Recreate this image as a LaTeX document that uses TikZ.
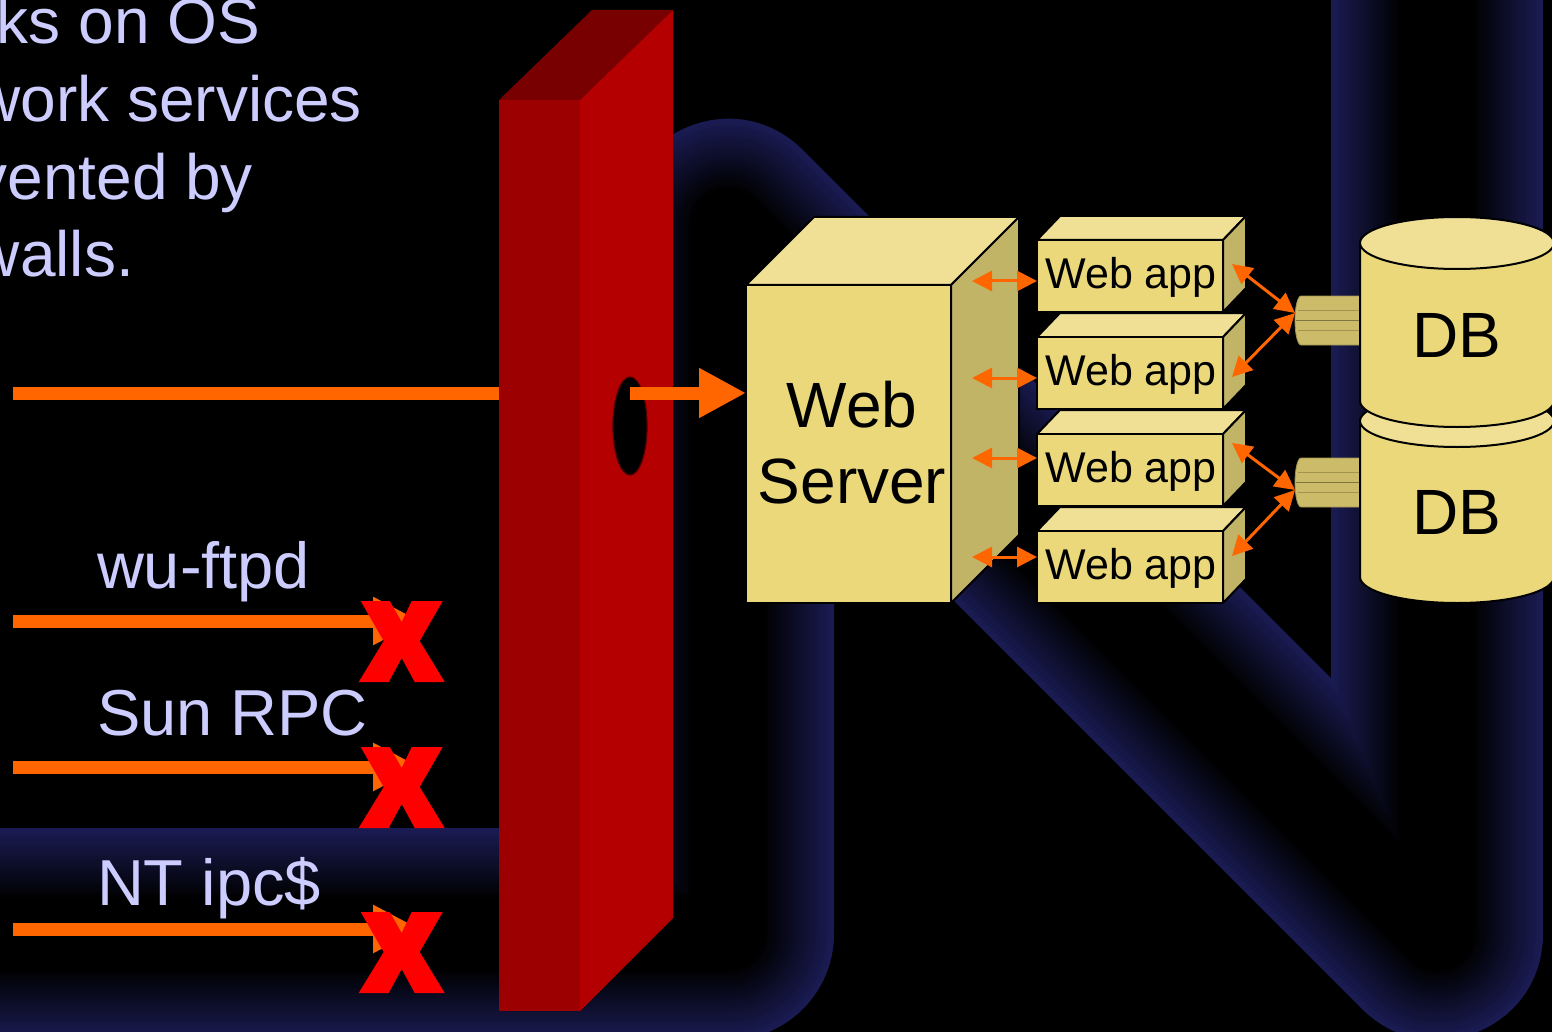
\documentclass[tikz,border=0pt]{standalone}
\usepackage{fontspec}
\setmainfont{Liberation Sans}
\usetikzlibrary{arrows.meta}

\definecolor{navy}{RGB}{26,27,82}
\definecolor{slidetext}{RGB}{204,204,255}
\definecolor{fwfront}{RGB}{156,0,0}
\definecolor{fwside}{RGB}{180,0,0}
\definecolor{fwtop}{RGB}{120,0,0}
\definecolor{flow}{RGB}{255,102,0}
\definecolor{tanfront}{RGB}{234,216,122}
\definecolor{tantop}{RGB}{240,224,150}
\definecolor{tanside}{RGB}{194,180,102}
\definecolor{plug}{RGB}{204,188,106}
\definecolor{plugline}{RGB}{160,148,80}

\tikzset{
  slide/.style={text=slidetext, font=\fontsize{32}{38}\selectfont, inner sep=0pt, outer sep=0pt},
  service/.style={text=slidetext, font=\fontsize{32.5}{38}\selectfont, inner sep=0pt, outer sep=0pt},
  bigtext/.style={text=black, font=\fontsize{32}{38}\selectfont, inner sep=0pt, outer sep=0pt},
  apptext/.style={text=black, font=\fontsize{21.5}{26}\selectfont, inner sep=0pt, outer sep=0pt},
  flowline/.style={draw=flow, line width=6.5pt},
  bighead/.style={-{Triangle[length=23.5pt,width=23.5pt]}},
  stophead/.style={-{Triangle[length=23.5pt,width=22.5pt]}},
  linkarrow/.style={draw=flow, line width=1.5pt,
    {Triangle[length=10pt,width=10pt]}-{Triangle[length=10pt,width=10pt]}},
  tanbox/.style={draw=black, fill=tanfront, line width=1pt, inner sep=0pt, outer sep=0pt},
  face/.style={draw=black, line width=1pt, line join=round},
  blockx/.pic={
    \fill[red] (-41,-40) -- (-12,-40) -- (0,-19) -- (10,-40) -- (41,-40) -- (18,0)
      -- (43,41) -- (13,41) -- (0,17) -- (-13,41) -- (-43,41) -- (-18,0) -- cycle;
  },
}

\begin{document}
\begin{tikzpicture}[x=0.5pt,y=-0.5pt]
\fill[black] (0,0) rectangle (1552,1032);
\useasboundingbox (0,0) rectangle (1552,1032);
\clip (0,0) rectangle (1552,1032);

% shaded background tube, built from nested strokes
\foreach \i in {0,...,20}{
  \pgfmathsetmacro\w{106-3.5*\i}
  \pgfmathtruncatemacro\p{100-5*\i}
  \draw[line width=\w pt, navy!\p!black, line join=round]
    (-150,934) -- (728,934) -- (728,225) -- (1437,934) -- (1437,-150);
}

% slide text
\node[slide, anchor=base east] (t1) at (260,43.5) {ks on OS};
\node[slide, anchor=base east] (t2) at (362,122) {work services};
\node[slide, anchor=base east] (t3) at (253,200) {vented by};
\node[slide, anchor=base east] (t4) at (134,277) {walls.};

% firewall
\fill[fwtop] (499,100) -- (592,10) -- (673,10) -- (580,100) -- cycle;
\fill[fwside] (580,100) -- (673,10) -- (673,918) -- (580,1011) -- cycle;
\node[fill=fwfront, inner sep=0pt, outer sep=0pt, minimum width=40.5pt,
      minimum height=455.5pt, anchor=north west] (fw) at (499,100) {};
\coordinate (hole) at (630,426);
\filldraw[fill=black, draw=fwtop!60!black, line width=0.6pt]
  (hole) ellipse [x radius=8.5pt, y radius=24.5pt];

% allowed web traffic
\coordinate (in) at (13,393);
\draw[flowline] (in) -- (in -| fw.west);

% blocked services
\node[service, anchor=base west] (lftp) at (97,588) {wu-ftpd};
\node[service, anchor=base west] (lrpc) at (97,735) {Sun RPC};
\node[service, anchor=base west] (lipc) at (97,905) {NT ipc\$};

\coordinate (s1) at (13,621);  \coordinate (e1) at (420,621);
\coordinate (s2) at (13,767);  \coordinate (e2) at (420,767);
\coordinate (s3) at (13,929);  \coordinate (e3) at (420,929);
\draw[flowline, stophead] (s1) -- (e1);
\draw[flowline, stophead] (s2) -- (e2);
\draw[flowline, stophead] (s3) -- (e3);
\pic at (401.7,641) {blockx};
\pic at (401.7,787) {blockx};
\pic at (401.7,952) {blockx};

% web server
\filldraw[face, fill=tantop] (746,285) -- (814,217) -- (1019,217) -- (951,285) -- cycle;
\filldraw[face, fill=tanside] (951,285) -- (1019,217) -- (1019,535) -- (951,603) -- cycle;
\node[tanbox, minimum width=102.5pt, minimum height=159pt, anchor=north west] (ws) at (746,285) {};
\node[bigtext, anchor=base] (wsa) at (852,427) {Web};
\node[bigtext, anchor=base] (wsb) at (852,503) {Server};

\draw[flowline, bighead] (hole |- in) -- (ws.west |- in);

% web applications
\foreach \t [count=\k] in {240,337,434,531}{
  \filldraw[face, fill=tantop] (1037,\t) -- ++(23,-24) -- ++(186,0) -- ++(-23,24) -- cycle;
  \filldraw[face, fill=tanside] (1223,\t) -- ++(23,-24) -- ++(0,72) -- ++(-23,24) -- cycle;
  \node[tanbox, minimum width=93pt, minimum height=36pt, anchor=north west] (app\k) at (1037,\t) {};
  \node[apptext, anchor=base] (appl\k) at (1131,{\t+48}) {Web app};
}

% server to application links
\foreach \y [count=\k] in {281,378,458,557}{
  \coordinate (wsp\k) at (972,\y);
  \draw[linkarrow] (wsp\k) -- (app\k.west |- wsp\k);
}

% database plugs
\foreach \c/\n in {320.5/1,482.5/2}{
  \filldraw[fill=plug, draw=plugline, line width=0.4pt]
    (1360,{\c-24.5}) -- (1301,{\c-24.5})
    arc[start angle=90, end angle=270, x radius=3pt, y radius=12.25pt]
    -- (1360,{\c+24.5}) -- cycle;
  \draw[plugline, line width=0.5pt] (1298,{\c-10}) -- (1360,{\c-10});
  \draw[plugline!80!black, line width=0.6pt] (1296,{\c}) -- (1360,{\c});
  \draw[plugline, line width=0.5pt] (1298,{\c+10}) -- (1360,{\c+10});
  \coordinate (plug\n) at (1295,{\c});
}

% databases
\filldraw[face, fill=tanfront] (1360,421) -- (1360,577)
  arc[start angle=180, end angle=360, x radius=48.5pt, y radius=13pt] -- (1554,421) -- cycle;
\filldraw[face, fill=tantop] (1457,421) ellipse [x radius=48.5pt, y radius=13pt];
\filldraw[face, fill=tanfront] (1360,243) -- (1360,401)
  arc[start angle=180, end angle=360, x radius=48.5pt, y radius=13pt] -- (1554,243) -- cycle;
\filldraw[face, fill=tantop] (1457,243) ellipse [x radius=48.5pt, y radius=13pt];
\node[bigtext, anchor=base] (db1) at (1457,357) {DB};
\node[bigtext, anchor=base] (db2) at (1457,534) {DB};

% application to database links
\coordinate (ap1) at (1232,264);
\coordinate (ap2) at (1232,377);
\coordinate (ap3) at (1232,443);
\coordinate (ap4) at (1232,556);
\coordinate (dbin1) at (1295,313);
\coordinate (dbin2) at (1295,490);
\draw[linkarrow] (ap1) -- (dbin1);
\draw[linkarrow] (ap2) -- (dbin1);
\draw[linkarrow] (ap3) -- (dbin2);
\draw[linkarrow] (ap4) -- (dbin2);
\end{tikzpicture}
\end{document}
